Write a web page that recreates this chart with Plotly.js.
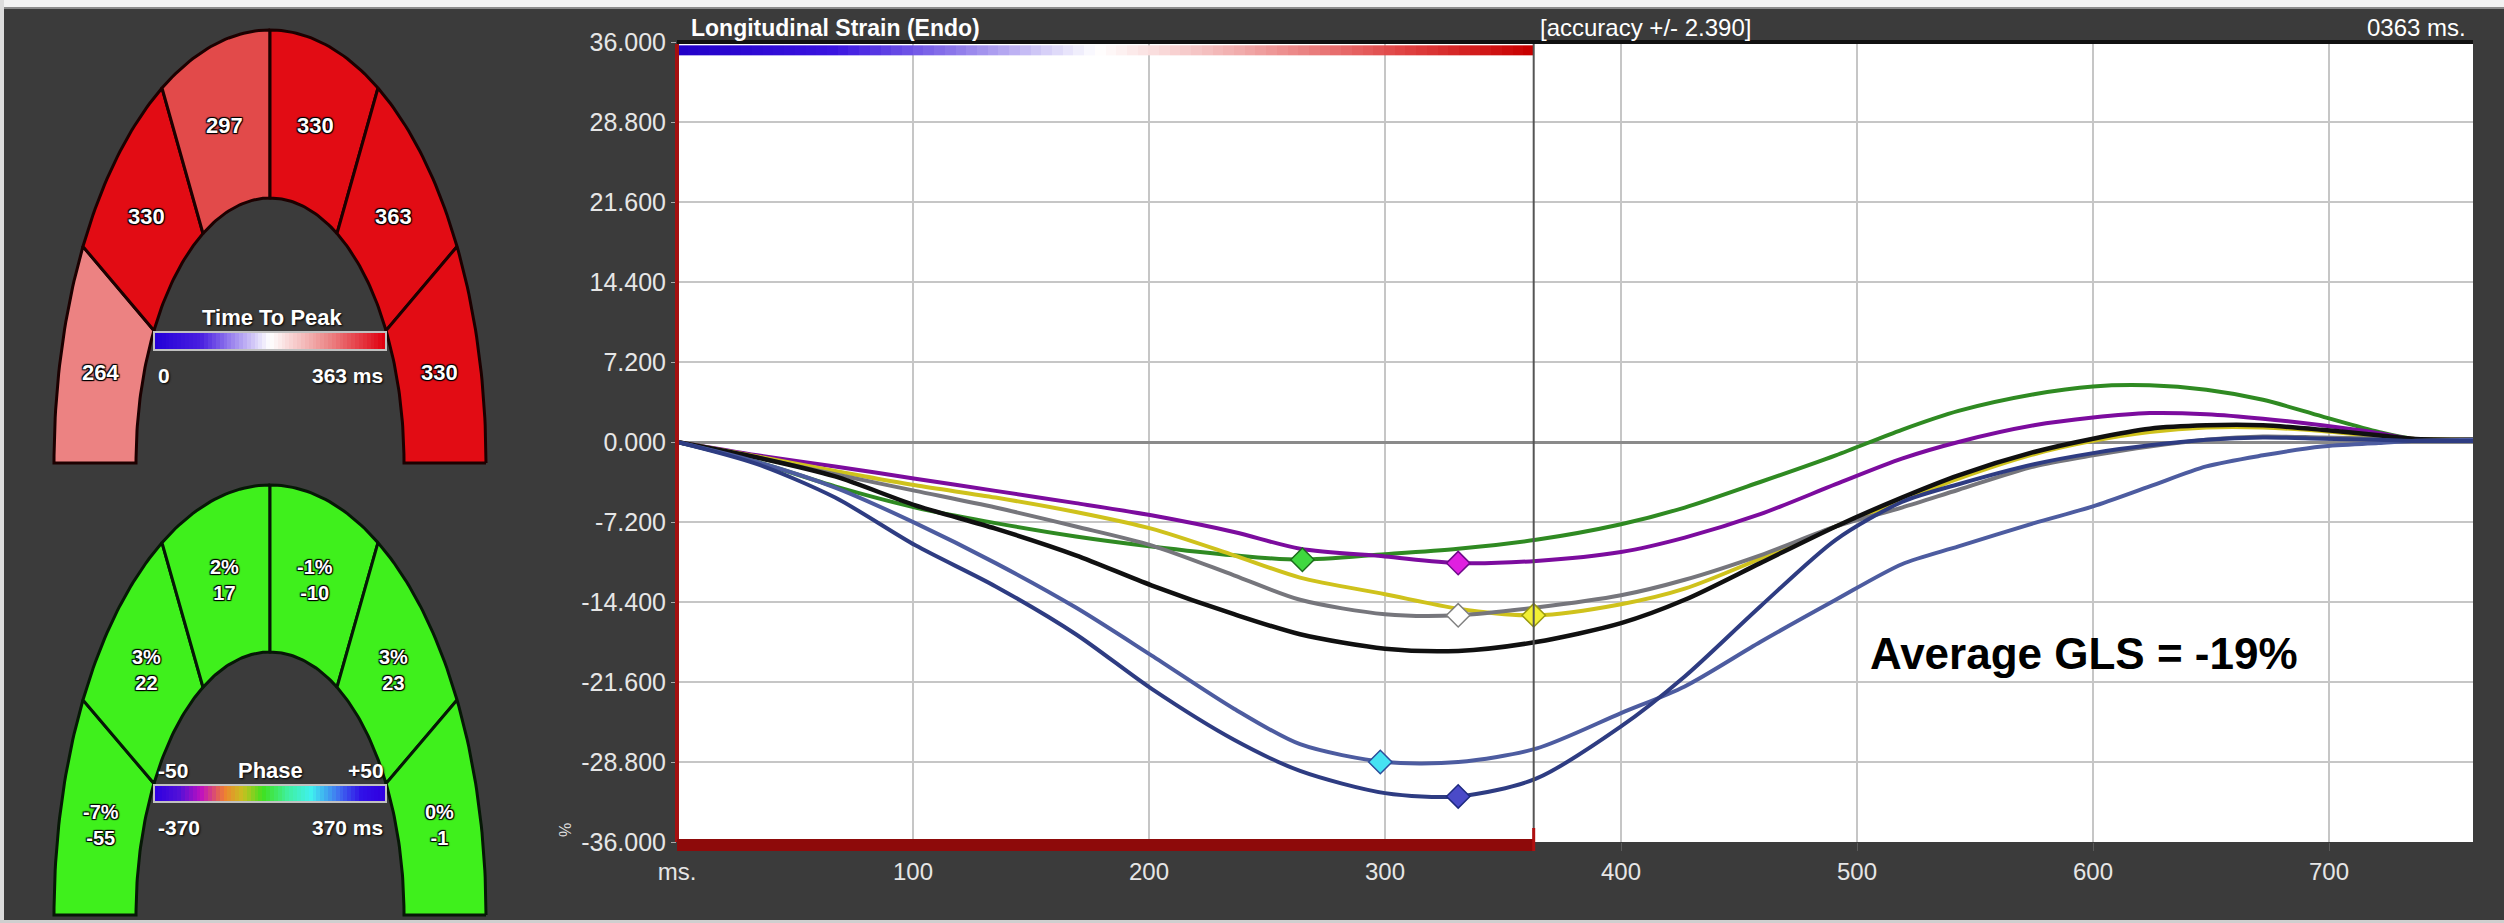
<!DOCTYPE html>
<html><head><meta charset="utf-8">
<script src="https://cdn.plot.ly/plotly-3.0.1.min.js"></script>
<style>html,body{margin:0;padding:0;background:#3b3b3b;overflow:hidden}#chart{width:2504px;height:923px}</style>
</head><body><div id="chart"></div>
<script>
// ---------------- DATA ----------------
const timeMs = [0,34,67,101,135,169,201,236,264,300,331,364,400,427,459,491,519,543,575,600,624,648,672,697,721,735,761];
const strainGreen  = [0,-1.8,-4.0,-5.9,-7.3,-8.5,-9.4,-10.2,-10.6,-10.1,-9.6,-8.8,-7.4,-5.9,-3.6,-1.2,1.1,2.8,4.3,5.0,5.1,4.7,3.8,2.3,0.9,0.3,0.2];
const strainPurple = [0,-1.2,-2.2,-3.3,-4.4,-5.5,-6.6,-8.1,-9.6,-10.3,-10.9,-10.7,-9.9,-8.6,-6.5,-3.8,-1.5,0.0,1.5,2.2,2.6,2.5,2.1,1.5,0.8,0.3,0.2];
const strainYellow = [0,-1.3,-2.6,-3.9,-5.0,-6.3,-7.8,-10.2,-12.2,-13.7,-15.0,-15.6,-14.6,-13.2,-10.5,-7.6,-5.3,-3.3,-1.1,0.1,0.9,1.3,1.3,1.0,0.5,0.3,0.2];
const strainGray   = [0,-1.4,-2.9,-4.4,-5.9,-7.6,-9.3,-12.0,-14.2,-15.5,-15.6,-14.9,-13.8,-12.4,-10.2,-7.6,-5.9,-4.3,-2.2,-1.2,-0.4,0.2,0.5,0.4,0.3,0.2,0.2];
const strainBlack  = [0,-1.4,-3.1,-5.7,-7.8,-10.2,-12.9,-15.5,-17.3,-18.6,-18.8,-18.0,-16.3,-14.2,-10.9,-7.6,-5.0,-3.0,-0.9,0.3,1.2,1.5,1.5,1.1,0.6,0.3,0.2];
const strainBlue   = [0,-1.8,-4.1,-7.3,-10.9,-14.9,-19.2,-24.0,-27.2,-28.8,-28.8,-27.6,-24.4,-22.0,-18.0,-14.2,-11.0,-9.4,-7.3,-5.8,-4.0,-2.2,-1.2,-0.4,-0.1,0.1,0.2];
const strainNavy   = [0,-2.0,-5.0,-9.3,-13.0,-17.3,-22.2,-26.8,-29.6,-31.6,-31.9,-30.3,-25.6,-21.1,-14.8,-8.8,-5.4,-3.8,-2.0,-1.0,-0.3,0.2,0.4,0.3,0.2,0.1,0.1];

const curveSeries = [strainGreen, strainPurple, strainYellow, strainGray, strainBlack, strainBlue, strainNavy];
const curveColors = ['#2f8a22','#7c0c9e','#cfc21c','#76767c','#101010','#4d5ca0','#2e3c82'];

const peakTimes  = [265, 331, 331, 363, 298, 331];
const peakValues = [-10.6, -10.9, -15.6, -15.6, -28.8, -31.9];
const peakFill   = ['#3fd83f','#e020e0','#ffffff','#f2f034','#46e2f2','#4a4ac8'];
const peakEdge   = ['#1b6b1b','#6e0a8a','#808080','#9a9a10','#2c4c9a','#1e2a80'];

const yTickVals = [-36,-28.8,-21.6,-14.4,-7.2,0,7.2,14.4,21.6,28.8,36];
const yTickText = ['-36.000','-28.800','-21.600','-14.400','-7.200','0.000','7.200','14.400','21.600','28.800','36.000'];
const xTickVals = [0,100,200,300,400,500,600,700];
const xTickText = ['ms.','100','200','300','400','500','600','700'];

const cursorMs = 363;

// segments (left basal -> right basal)
const ttpValues = [264, 330, 297, 330, 363, 330];
const ttpColors = ['#ec8282','#e20c14','#e24a4a','#e20c14','#e20c14','#e20c14'];
const phasePct  = ['-7%','3%','2%','-1%','3%','0%'];
const phaseMs   = ['-55','22','17','-10','23','-1'];
const phaseColors = ['#3ff01c','#3ff01c','#3ff01c','#3ff01c','#3ff01c','#3ff01c'];

// ---------------- HELPERS ----------------
const W = 2504, H = 923;
const px = v => v / W;
const py = v => 1 - v / H;
const segAngles = [[150,180],[120,150],[90,120],[60,90],[30,60],[0,30]];
const archTop = {cx:270, cy:463, ao:216, bo:433, ai:134, bi:265};
const archBot = {cx:270, cy:915, ao:216, bo:430, ai:134, bi:263};
const rad = d => d*Math.PI/180;

function segPath(g, t0, t1){
  const xs=[], ys=[], n=30;
  for(let i=0;i<=n;i++){const t=rad(t0+(t1-t0)*i/n); xs.push(g.cx+g.ao*Math.cos(t)); ys.push(g.cy-g.bo*Math.sin(t));}
  for(let i=n;i>=0;i--){const t=rad(t0+(t1-t0)*i/n); xs.push(g.cx+g.ai*Math.cos(t)); ys.push(g.cy-g.bi*Math.sin(t));}
  xs.push(xs[0]); ys.push(ys[0]);
  return {xs, ys};
}
function segCenter(g, t0, t1){
  const t = rad((t0+t1)/2), a=(g.ao+g.ai)/2, b=(g.bo+g.bi)/2;
  return {x:g.cx+a*Math.cos(t), y:g.cy-b*Math.sin(t)};
}
const outline = '1px 1px 1px #000, -1px -1px 1px #000, 1px -1px 1px #000, -1px 1px 1px #000';

const traces = [];
const annotations = [];
const shapes = [];

// white plotting area (main chart only)
shapes.push({type:'rect', xref:'x domain', yref:'y domain', x0:0, x1:1, y0:0, y1:1, fillcolor:'#ffffff', line:{width:0}, layer:'below'});

// ---- top strain gradient bar ----
const nG = 80;
const gx = [], gz = [];
for(let i=0;i<=nG;i++) gx.push(cursorMs*i/nG);
for(let i=0;i<nG;i++) gz.push(i);
traces.push({type:'heatmap', x:gx, y:[34.8,35.7], z:[gz], showscale:false, hoverinfo:'skip',
  colorscale:[[0,'#2200c8'],[0.18,'#3a14e0'],[0.32,'#8c78ea'],[0.49,'#ffffff'],[0.65,'#f2b0b0'],[0.85,'#e04444'],[1,'#c80000']]});

// ---- strain curves ----
curveSeries.forEach((s,i)=>{
  traces.push({type:'scatter', mode:'lines', x:timeMs, y:s, hoverinfo:'skip',
    line:{color:curveColors[i], width:(i===4?4.5:4), shape:'spline', smoothing:0.8}});
});
traces.push({type:'scatter', mode:'markers', x:peakTimes, y:peakValues, hoverinfo:'skip',
  marker:{symbol:'diamond', size:18, color:peakFill, line:{color:peakEdge, width:1.5}}});

// ---- arches ----
function drawArch(g, colors, edge){
  segAngles.forEach((a,i)=>{
    const p = segPath(g, a[0], a[1]);
    traces.push({type:'scatter', mode:'lines', x:p.xs, y:p.ys, xaxis:'x2', yaxis:'y2', fill:'toself',
      fillcolor:colors[i], line:{color:edge, width:3}, hoverinfo:'skip'});
  });
}
drawArch(archTop, ttpColors, '#1c0000');
drawArch(archBot, phaseColors, '#061806');

segAngles.forEach((a,i)=>{
  const c = segCenter(archTop, a[0], a[1]);
  annotations.push({xref:'x2', yref:'y2', x:c.x, y:c.y, text:String(ttpValues[i]), showarrow:false,
    font:{family:'Liberation Sans', size:22, color:'#ffffff', weight:'bold', shadow:outline}});
  const d = segCenter(archBot, a[0], a[1]);
  annotations.push({xref:'x2', yref:'y2', x:d.x, y:d.y, text:phasePct[i]+'<br>'+phaseMs[i], showarrow:false,
    font:{family:'Liberation Sans', size:20, color:'#ffffff', weight:'bold', shadow:outline}});
});

// colour bars in arches
const nb = 60, bx = [], bz = [];
for(let i=0;i<=nb;i++) bx.push(154 + 232*i/nb);
for(let i=0;i<nb;i++) bz.push(i);
traces.push({type:'heatmap', x:bx, y:[332,350], z:[bz], xaxis:'x2', yaxis:'y2', showscale:false, hoverinfo:'skip',
  colorscale:[[0,'#2400d8'],[0.2,'#4a20e0'],[0.5,'#ffffff'],[0.75,'#ec8a8a'],[1,'#e00010']]});
traces.push({type:'heatmap', x:bx, y:[785,802], z:[bz], xaxis:'x2', yaxis:'y2', showscale:false, hoverinfo:'skip',
  colorscale:[[0,'#3000e0'],[0.1,'#5010d8'],[0.2,'#c010c0'],[0.3,'#f08030'],[0.38,'#c8c020'],[0.47,'#40e020'],[0.58,'#40f0a0'],[0.68,'#40f0f0'],[0.8,'#4070f0'],[0.9,'#3010e8'],[1,'#3000e0']]});
shapes.push({type:'rect', xref:'x2', yref:'y2', x0:154, x1:386, y0:332, y1:350, line:{color:'#c0c0c0', width:2}});
shapes.push({type:'rect', xref:'x2', yref:'y2', x0:154, x1:386, y0:785, y1:802, line:{color:'#c0c0c0', width:2}});

const lab = (x,y,t,anchor,size)=>annotations.push({xref:'x2', yref:'y2', x:x, y:y, text:t, showarrow:false, xanchor:anchor,
  font:{family:'Liberation Sans', size:size||21, color:'#ffffff', weight:'bold', shadow:'1px 1px 2px #000'}});
lab(272,317,'Time To Peak','center',22);
lab(156,375,'0','left');
lab(385,375,'363 ms','right');
lab(156,770,'-50','left');
lab(270,770,'Phase','center',22);
lab(386,770,'+50','right');
lab(156,827,'-370','left');
lab(385,827,'370 ms','right');

// ---- plot decorations ----
shapes.push({type:'line', xref:'x', yref:'y', x0:cursorMs, x1:cursorMs, y0:-36, y1:36, line:{color:'#555555', width:2}});
shapes.push({type:'line', xref:'x domain', yref:'y domain', x0:0, x1:1, y0:1, y1:1, line:{color:'#111111', width:4}});
shapes.push({type:'line', xref:'paper', yref:'paper', x0:px(677), x1:px(677), y0:py(842), y1:py(44), line:{color:'#a41010', width:4}});
shapes.push({type:'rect', xref:'x', yref:'paper', x0:0, x1:cursorMs, y0:py(851), y1:py(839), fillcolor:'#8e0a0a', line:{width:0}});
shapes.push({type:'line', xref:'x', yref:'paper', x0:cursorMs, x1:cursorMs, y0:py(851), y1:py(828), line:{color:'#b01010', width:3}});
// window edges
shapes.push({type:'rect', xref:'paper', yref:'paper', x0:0, x1:1, y0:py(7), y1:1, fillcolor:'#f2f2f2', line:{width:0}});
shapes.push({type:'line', xref:'paper', yref:'paper', x0:0, x1:1, y0:py(8), y1:py(8), line:{color:'#8a8a8a', width:2}});
shapes.push({type:'rect', xref:'paper', yref:'paper', x0:0, x1:px(4), y0:0, y1:1, fillcolor:'#dcdcdc', line:{width:0}});
shapes.push({type:'rect', xref:'paper', yref:'paper', x0:0, x1:1, y0:0, y1:py(920), fillcolor:'#cfcfcf', line:{width:0}});

// ---- header & notes ----
annotations.push({xref:'paper', yref:'paper', x:px(689), y:py(28), xanchor:'left', yanchor:'middle', showarrow:false,
  text:'Longitudinal Strain (Endo)', font:{family:'Liberation Sans', size:23, color:'#ffffff', weight:'bold'}});
annotations.push({xref:'paper', yref:'paper', x:px(1538), y:py(28), xanchor:'left', yanchor:'middle', showarrow:false,
  text:'[accuracy +/- 2.390]', font:{family:'Liberation Sans', size:24, color:'#ffffff'}});
annotations.push({xref:'paper', yref:'paper', x:px(2468), y:py(28), xanchor:'right', yanchor:'middle', showarrow:false,
  text:'0363 ms.', font:{family:'Liberation Sans', size:24, color:'#ffffff'}});
annotations.push({xref:'paper', yref:'paper', x:px(565), y:py(830), xanchor:'center', yanchor:'middle', showarrow:false,
  textangle:-90, text:'%', font:{family:'Liberation Sans', size:16, color:'#dddddd'}});
annotations.push({xref:'x', yref:'y', x:596, y:-19.0, xanchor:'center', yanchor:'middle', showarrow:false,
  text:'Average GLS = -19%', font:{family:'Liberation Sans', size:44, color:'#000000', weight:'bold'}});

const layout = {
  width:W, height:H, margin:{l:0,r:0,t:0,b:0},
  paper_bgcolor:'#3b3b3b', plot_bgcolor:'rgba(0,0,0,0)', showlegend:false, hovermode:false,
  xaxis:{domain:[px(677), px(2473)], range:[0,761], tickvals:xTickVals, ticktext:xTickText,
    showgrid:true, gridcolor:'#c6c6c6', gridwidth:2, zeroline:false, showline:false,
    ticks:'outside', ticklen:8, tickcolor:'#5a5a5a', tickfont:{family:'Liberation Sans', size:24, color:'#e6e6e6'}, fixedrange:true},
  yaxis:{domain:[py(842), py(42)], range:[-36,36], tickvals:yTickVals, ticktext:yTickText,
    showgrid:true, gridcolor:'#c6c6c6', gridwidth:2, zeroline:true, zerolinecolor:'#8a8a8a', zerolinewidth:3, showline:false,
    ticks:'outside', ticklen:5, tickcolor:'#aaaaaa', tickfont:{family:'Liberation Sans', size:25, color:'#e6e6e6'}, fixedrange:true},
  xaxis2:{domain:[0, px(560)], range:[0,560], anchor:'y2', visible:false, fixedrange:true},
  yaxis2:{domain:[0,1], range:[923,0], anchor:'x2', visible:false, fixedrange:true},
  shapes:shapes, annotations:annotations
};
Plotly.newPlot('chart', traces, layout, {staticPlot:true, displayModeBar:false});
</script></body></html>
